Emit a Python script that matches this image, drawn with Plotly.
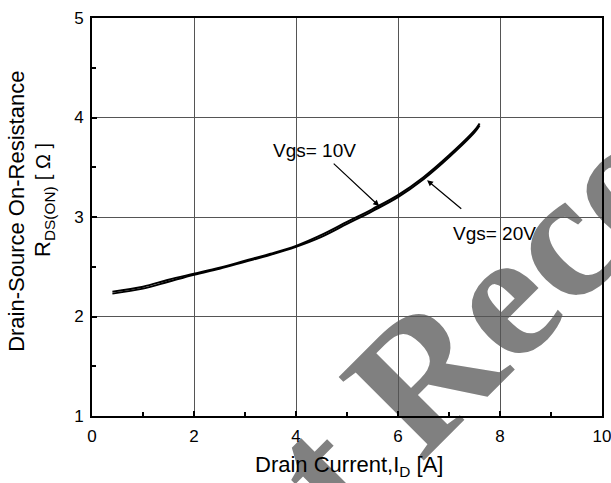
import plotly.graph_objects as go

# Data
current_a = [0.4, 1.0, 1.5, 2.0, 2.5, 3.0, 3.5, 4.0, 4.5, 5.0, 5.5, 6.0, 6.5, 7.0, 7.5, 7.6]
r_vgs10 = [2.25, 2.30, 2.37, 2.43, 2.49, 2.56, 2.63, 2.71, 2.82, 2.95, 3.08, 3.22, 3.40, 3.62, 3.87, 3.94]
r_vgs20 = [2.23, 2.28, 2.35, 2.42, 2.48, 2.55, 2.62, 2.70, 2.80, 2.93, 3.06, 3.20, 3.38, 3.60, 3.85, 3.92]
series_names = ["Vgs= 10V", "Vgs= 20V"]
x_ticks = [0, 2, 4, 6, 8, 10]
y_ticks = [1, 2, 3, 4, 5]
watermark_text = "Not Recommended"

FONT = "Liberation Sans, Arial, sans-serif"

fig = go.Figure()
fig.add_trace(go.Scatter(x=current_a, y=r_vgs10, mode="lines", name=series_names[0],
                         line=dict(color="black", width=2), line_shape="spline"))
fig.add_trace(go.Scatter(x=current_a, y=r_vgs20, mode="lines", name=series_names[1],
                         line=dict(color="black", width=2), line_shape="spline"))

# watermark as a label of an invisible shape drawn below the grid
wx, wy, d = 1.103, 0.757, 0.01
fig.add_shape(type="rect", xref="paper", yref="paper", x0=wx - d, x1=wx + d, y0=wy - d, y1=wy + d,
              layer="below", line=dict(width=0), fillcolor="rgba(0,0,0,0)",
              label=dict(text=watermark_text, textangle=-45, textposition="middle center",
                         font=dict(family="Liberation Serif, Times New Roman, serif", size=182,
                                   color="#808080", weight="bold")))

annotations = [
    dict(text=series_names[0], x=4.37, y=3.67, xref="x", yref="y", showarrow=False,
         font=dict(family=FONT, size=19, color="black")),
    dict(text=series_names[1], x=7.90, y=2.83, xref="x", yref="y", showarrow=False,
         font=dict(family=FONT, size=19, color="black")),
    dict(text="", x=5.63, y=3.11, ax=4.71, ay=3.55, xref="x", yref="y", axref="x", ayref="y",
         showarrow=True, arrowhead=2, arrowsize=1, arrowwidth=1.2, arrowcolor="black"),
    dict(text="", x=6.57, y=3.37, ax=7.27, ay=3.07, xref="x", yref="y", axref="x", ayref="y",
         showarrow=True, arrowhead=2, arrowsize=1, arrowwidth=1.2, arrowcolor="black"),
    dict(text="Drain Current,I<sub>D</sub> [A]", xref="paper", yref="paper", x=0.504, y=-0.126,
         xanchor="center", yanchor="middle", showarrow=False,
         font=dict(family=FONT, size=22, color="black")),
    dict(text="Drain-Source On-Resistance", xref="paper", yref="paper", x=-0.147, y=0.513,
         xanchor="center", yanchor="middle", showarrow=False, textangle=-90,
         font=dict(family=FONT, size=22, color="black")),
    dict(text="R<sub>DS(ON)</sub> <span style='font-size:20px'>[ Ω ]</span>", xref="paper", yref="paper",
         x=-0.094, y=0.543, xanchor="center", yanchor="middle", showarrow=False, textangle=-90,
         font=dict(family=FONT, size=22, color="black")),
]

axis_common = dict(
    showline=True, linecolor="black", linewidth=2, mirror=True,
    showgrid=True, gridcolor="#555555", gridwidth=1,
    ticks="inside", ticklen=5, tickwidth=2, tickcolor="black",
    zeroline=False, ticklabeloverflow="allow",
    tickfont=dict(family=FONT, size=17, color="black"),
)

fig.update_xaxes(range=[0, 10], tickvals=x_ticks, ticktext=[str(v) for v in x_ticks],
                 minor=dict(dtick=1, ticks="inside", ticklen=4, tickwidth=2, tickcolor="black", showgrid=False),
                 ticklabelstandoff=4, **axis_common)
fig.update_yaxes(range=[1, 5], tickvals=y_ticks, ticktext=[str(v) for v in y_ticks],
                 minor=dict(dtick=0.5, ticks="inside", ticklen=4, tickwidth=2, tickcolor="black", showgrid=False),
                 ticklabelstandoff=3, **axis_common)

fig.update_layout(
    width=611, height=483,
    margin=dict(l=92, r=9, t=18, b=67, autoexpand=False),
    paper_bgcolor="white", plot_bgcolor="rgba(0,0,0,0)",
    showlegend=False,
    annotations=annotations,
)

fig.write_html("out.html", config={"displayModeBar": False},
               post_script="document.body.style.margin='0';document.body.style.overflow='hidden';")
